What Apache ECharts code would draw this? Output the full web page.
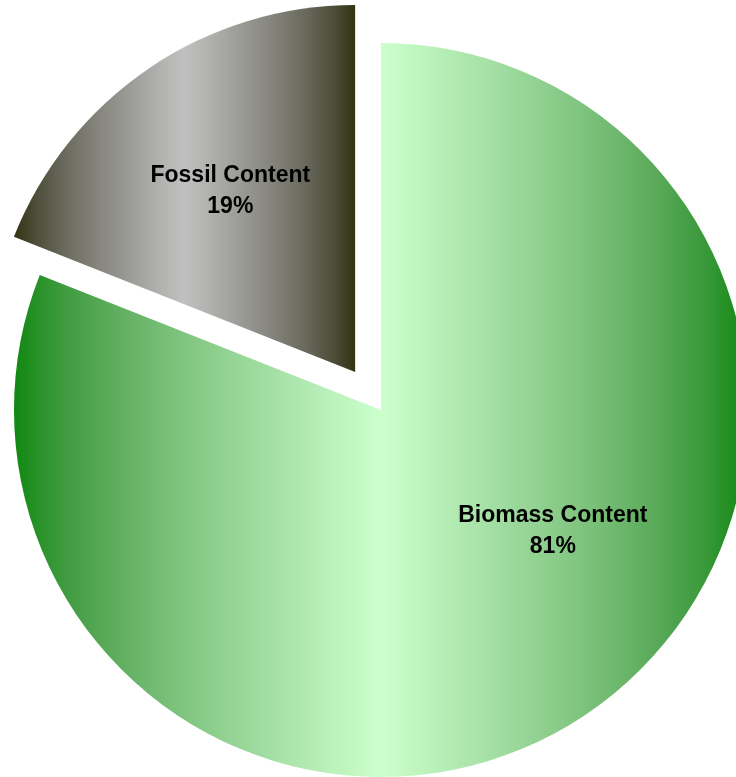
<!DOCTYPE html>
<html>
<head>
<meta charset="utf-8">
<script src="https://cdn.jsdelivr.net/npm/echarts@6/dist/echarts.min.js"></script>
<style>
html,body{margin:0;padding:0;background:#fff;}
#chart{width:736px;height:777px;}
</style>
</head>
<body>
<div id="chart"></div>
<script>
const categories = ["Biomass Content", "Fossil Content"];
const values = [81, 19];
const selectedFlags = [false, true];
const edgeColors = ["#118811", "#333311"];
const midColors = ["#ccffcc", "#c0c0c0"];

const GAMMA = 1.6;
function toLin(c) { return Math.pow(c / 255, GAMMA); }
function toSrgb(v) { return Math.round(Math.max(0, Math.min(1, Math.pow(v, 1 / GAMMA))) * 255); }
function hexRgb(h) { return [1, 3, 5].map(k => parseInt(h.substr(k, 2), 16)); }
function gradientStops(edge, mid) {
  const a = hexRgb(edge), b = hexRgb(mid);
  const stops = [];
  const n = 16;
  for (let k = 0; k <= n; k++) {
    const off = k / n;
    const t = 1 - Math.abs(off - 0.5) * 2;
    const rgb = a.map((ch, j) => toSrgb(toLin(ch) * (1 - t) + toLin(b[j]) * t));
    stops.push({offset: off, color: 'rgb(' + rgb.join(',') + ')'});
  }
  return stops;
}

const chart = echarts.init(document.getElementById('chart'));
const data = categories.map((name, i) => ({
  name: name,
  value: values[i],
  selected: selectedFlags[i],
  itemStyle: {
    color: {
      type: 'linear', x: 0, y: 0, x2: 1, y2: 0,
      colorStops: gradientStops(edgeColors[i], midColors[i])
    }
  }
}));
const labelShift = [[67, -33], [-20, -27]];
chart.setOption({
  animation: false,
  series: [{
    type: 'pie',
    center: [381, 410],
    radius: [0, 367],
    startAngle: 90,
    clockwise: true,
    selectedMode: 'single',
    selectedOffset: 46,
    silent: true,
    emphasis: {disabled: true},
    select: {itemStyle: {}},
    label: {
      show: true,
      position: 'inner',
      formatter: '{b}\n{c}%',
      fontFamily: 'Liberation Sans, Arial, sans-serif',
      fontWeight: 'bold',
      fontSize: 23,
      lineHeight: 31,
      color: '#000'
    },
    labelLine: {show: false},
    labelLayout: function (p) {
      const s = labelShift[p.dataIndex];
      return {dx: s[0], dy: s[1]};
    },
    data: data
  }]
});
</script>
</body>
</html>
